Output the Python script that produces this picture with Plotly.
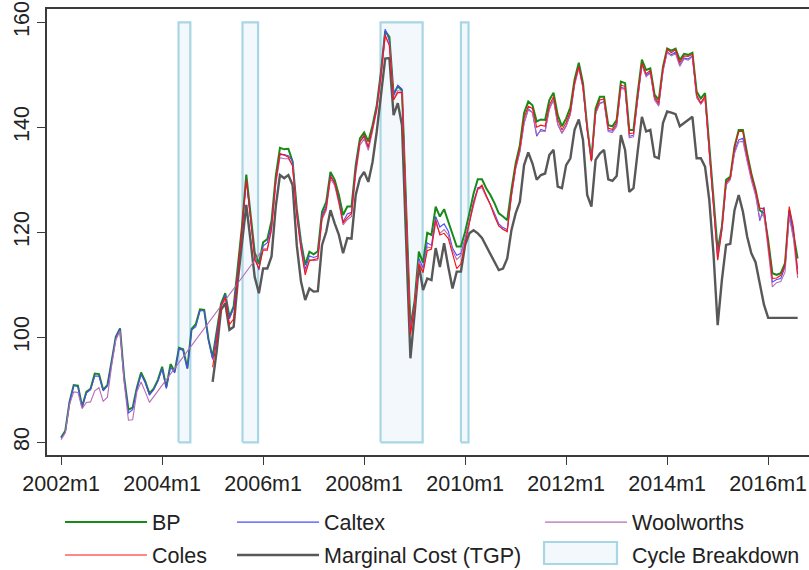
import plotly.graph_objects as go

# months since 2002m1 (2002m1 .. 2016m8)
n_months = 176
months = list(range(n_months))
tick_vals = [0, 24, 48, 72, 96, 120, 144, 168]
tick_text = ["2002m1", "2004m1", "2006m1", "2008m1", "2010m1", "2012m1", "2014m1", "2016m1"]

bp = [80.9, 82.2, 87.7, 90.9, 90.8, 86.8, 89.6, 90.2, 93.1, 93.0, 90.0, 90.9,
      95.4, 100.1, 101.7, 92.2, 86.2, 86.6, 90.4, 93.3, 91.6, 89.3, 90.2, 91.9,
      94.4, 90.5, 94.9, 93.5, 98.0, 97.7, 94.1, 101.6, 102.5, 105.3, 105.2, 99.7,
      96.2, 101.4, 106.4, 108.4, 103.9, 105.9, 113.0, 121.3, 131.0, 123.3, 116.2, 114.0,
      118.1, 118.7, 122.2, 130.7, 136.1, 135.8, 135.9, 133.5, 124.5, 118.2, 113.8, 116.3,
      115.8, 116.4, 123.9, 125.8, 131.5, 130.0, 127.1, 123.3, 124.9, 124.9, 132.8, 137.9,
      139.0, 137.3, 140.4, 144.2, 150.6, 158.3, 157.2, 146.3, 147.8, 147.0, 124.5, 102.0,
      107.0, 116.3, 114.2, 119.9, 119.5, 124.9, 123.0, 124.4, 122.0, 119.5, 117.3, 117.3,
      120.1, 123.6, 127.4, 130.1, 130.1, 128.4, 127.1, 125.5, 123.6, 123.0, 122.3, 128.1,
      133.1, 136.6, 142.7, 144.9, 144.2, 141.1, 141.5, 141.4, 145.2, 146.6, 142.3, 140.2,
      141.7, 143.8, 149.1, 152.3, 148.4, 140.1, 133.8, 143.6, 145.8, 145.8, 140.4, 140.2,
      141.4, 148.7, 148.4, 139.5, 139.5, 146.6, 152.9, 150.9, 151.2, 146.2, 145.2, 151.5,
      155.0, 154.6, 155.0, 152.8, 154.0, 153.8, 154.2, 146.8, 145.5, 146.5, 136.2, 126.1,
      116.6, 121.1, 130.0, 130.6, 136.3, 139.5, 139.5, 135.0, 131.2, 128.1, 124.2, 123.6,
      118.5, 112.2, 111.9, 112.2, 114.1, 124.2, 119.8, 115.0]

caltex = [80.8, 82.0, 87.6, 90.8, 90.6, 86.6, 89.4, 90.0, 92.6, 92.6, 89.8, 90.7,
          95.2, 100.0, 101.6, 92.0, 85.6, 86.2, 90.1, 92.9, 91.3, 89.0, 90.0, 91.6,
          94.0, 90.2, 94.3, 93.2, 97.8, 97.5, 94.0, 101.4, 102.0, 105.1, 105.0, 99.4,
          95.8, 101.0, 106.0, 108.0, 103.5, 105.5, 112.5, 120.8, 130.0, 122.8, 115.5, 112.8,
          117.4, 118.0, 121.5, 129.8, 134.8, 134.8, 134.6, 133.6, 124.0, 117.8, 112.9, 115.5,
          115.2, 115.5, 123.2, 125.0, 130.8, 129.2, 126.2, 122.0, 123.5, 123.8, 132.2, 137.3,
          138.2, 136.0, 139.8, 143.8, 150.4, 158.7, 156.5, 146.0, 148.0, 147.3, 124.0, 101.1,
          106.5, 115.0, 113.2, 118.0, 117.5, 123.0, 121.0, 121.6, 120.2, 117.0, 115.6, 116.0,
          118.8, 122.0, 125.8, 128.5, 128.7, 127.0, 125.6, 123.6, 121.6, 120.9, 120.5, 127.0,
          132.2, 135.4, 140.8, 143.5, 142.8, 138.3, 139.6, 139.3, 143.6, 145.3, 140.6, 138.9,
          140.3, 142.6, 148.2, 151.6, 147.6, 139.5, 133.7, 142.6, 144.6, 144.9, 139.4, 139.3,
          140.4, 147.6, 147.4, 138.3, 138.5, 145.6, 152.0, 149.9, 150.5, 145.5, 144.2, 150.8,
          154.4, 153.8, 154.3, 151.8, 153.2, 153.0, 153.6, 145.8, 144.6, 145.8, 136.0, 126.5,
          115.4, 121.0, 129.3, 130.2, 135.4, 137.6, 137.9, 134.0, 130.4, 127.6, 122.2, 124.8,
          117.4, 110.5, 111.0, 111.2, 113.4, 123.8, 120.0, 113.0]

coles = [None] * 36 + [
    94.3, 99.6, 106.0, 107.6, 102.4, 103.5, 112.0, 120.5, 130.0, 122.8, 114.8, 113.1,
    116.6, 116.6, 120.8, 129.6, 135.0, 134.7, 134.3, 132.6, 123.2, 116.8, 111.9, 114.6,
    114.8, 115.0, 122.8, 124.6, 130.6, 129.5, 125.8, 121.8, 122.8, 123.6, 131.6, 137.2,
    138.5, 136.3, 139.8, 143.5, 149.8, 157.6, 155.5, 145.2, 146.6, 146.6, 123.5, 100.5,
    106.0, 114.0, 112.3, 116.5, 116.8, 122.4, 119.5, 119.8, 118.8, 115.7, 113.1, 114.0,
    118.0, 121.8, 125.6, 128.2, 129.0, 127.0, 125.2, 123.0, 121.2, 120.6, 120.1, 127.2,
    132.6, 136.0, 141.8, 144.0, 143.6, 140.0, 140.4, 140.2, 144.2, 145.8, 141.4, 139.5,
    140.9, 143.0, 148.5, 151.6, 147.8, 139.5, 133.5, 143.0, 145.2, 145.4, 139.8, 139.6,
    140.9, 148.0, 147.8, 138.8, 138.9, 145.9, 152.2, 150.2, 150.8, 145.8, 144.6, 151.2,
    154.9, 154.2, 154.8, 152.3, 153.6, 153.5, 153.9, 146.2, 144.6, 146.0, 135.6, 125.0,
    114.7, 120.5, 129.5, 130.4, 136.2, 139.2, 139.2, 134.7, 130.9, 128.0, 124.6, 124.5,
    118.0, 111.2, 111.3, 111.8, 113.7, 124.9, 121.0, 112.0]

woolworths = [80.5, 81.8, 87.2, 89.6, 89.5, 86.4, 87.6, 87.7, 89.8, 90.4, 87.8, 88.6,
              94.5, 99.5, 101.2, 91.3, 84.2, 84.3, 89.6, 91.5, 89.6, 87.6] + [None] * 26 + [
    116.8, 116.9, 120.3, 129.0, 134.2, 134.0, 134.0, 132.8, 123.0, 116.9, 112.4, 114.8,
    114.6, 114.7, 122.4, 124.2, 130.2, 128.9, 125.5, 121.4, 122.4, 123.0, 131.0, 136.6,
    137.8, 135.6, 139.2, 143.2, 149.6, 157.4, 155.8, 145.4, 147.0, 146.8, 123.5, 100.8,
    106.0, 114.6, 112.6, 117.2, 117.0, 121.8, 119.8, 120.5, 119.5, 116.5, 114.8, 115.6,
    118.6, 121.8, 125.5, 128.2, 128.5, 126.7, 125.3, 123.2, 121.2, 120.5, 120.3, 126.8,
    132.0, 135.3, 140.8, 143.3, 142.8, 138.6, 139.3, 139.2, 143.4, 145.2, 140.5, 138.8,
    140.2, 142.4, 148.0, 151.2, 147.4, 139.6, 133.8, 142.6, 144.5, 144.8, 139.2, 139.0,
    140.2, 147.4, 147.2, 138.0, 138.2, 145.4, 151.8, 149.6, 150.3, 145.2, 144.0, 150.6,
    154.2, 153.6, 154.0, 151.6, 153.0, 152.8, 153.4, 145.6, 144.4, 145.5, 135.5, 125.5,
    114.8, 120.4, 129.0, 130.0, 135.0, 137.2, 137.3, 133.5, 129.9, 127.0, 122.6, 123.6,
    117.0, 109.6, 110.4, 110.6, 112.4, 123.0, 118.8, 111.3]

mc = [None] * 36 + [
    91.5, 97.6, 105.2, 106.5, 101.4, 102.0, 110.9, 118.5, 125.2, 118.5, 111.5, 108.4,
    113.1, 113.1, 115.4, 124.9, 130.9, 130.3, 130.9, 129.0, 117.5, 110.6, 107.1, 109.3,
    108.7, 108.8, 117.6, 120.1, 124.2, 121.7, 119.5, 116.0, 118.9, 118.8, 127.1, 130.3,
    131.5, 129.6, 133.4, 139.2, 146.8, 153.1, 153.2, 142.3, 144.6, 140.4, 118.0, 96.0,
    104.6, 113.8, 109.0, 111.2, 110.9, 117.0, 113.4, 117.9, 113.4, 109.3, 112.5, 112.5,
    117.6, 119.8, 120.4, 119.8, 118.9, 117.3, 116.0, 114.4, 112.8, 113.1, 115.0, 120.4,
    123.6, 125.8, 132.8, 135.2, 133.1, 130.0, 130.9, 131.2, 134.7, 135.7, 128.7, 128.4,
    132.8, 134.1, 139.5, 141.5, 137.6, 127.1, 124.9, 133.8, 135.0, 135.7, 130.1, 129.8,
    130.7, 138.5, 135.7, 127.7, 128.4, 135.4, 142.0, 139.2, 139.5, 134.4, 134.1, 140.8,
    143.0, 142.8, 142.5, 140.2, 140.8, 141.5, 142.0, 134.1, 134.1, 132.5, 126.2, 116.0,
    102.3, 110.9, 117.6, 117.8, 124.2, 127.1, 123.9, 119.2, 116.0, 114.3, 110.3, 106.2,
    103.7, 103.7, 103.7, 103.7, 103.7, 103.7, 103.7, 103.7]

# cycle breakdown periods (month index start/end) and their vertical span
cycle_start = [27.9, 43.1, 75.9, 95.0]
cycle_end = [30.7, 46.8, 85.9, 96.8]
cycle_low, cycle_high = 80, 160

FONT = "Liberation Sans, Arial, sans-serif"
FS = 21.5
FILL = "#f3f8fc"
EDGE = "#a9d6e4"

rect_x, rect_y = [], []
for s, e in zip(cycle_start, cycle_end):
    rect_x += [s, e, e, s, s, None]
    rect_y += [cycle_low, cycle_low, cycle_high, cycle_high, cycle_low, None]

fig = go.Figure()
fig.add_trace(go.Scatter(x=rect_x, y=rect_y, mode="lines", fill="toself",
                         fillcolor=FILL, line=dict(color=EDGE, width=2.2),
                         showlegend=False, hoverinfo="skip"))
# legend entry for cycle breakdown (symbol drawn as a box shape below)
fig.add_trace(go.Scatter(x=[None], y=[None], mode="lines", name="Cycle Breakdown",
                         line=dict(color="rgba(0,0,0,0)", width=1), legend="legend3",
                         legendrank=6, legendgroup="g6"))
fig.add_trace(go.Scatter(x=months, y=mc, mode="lines", name="Marginal Cost (TGP)",
                         line=dict(color="#585858", width=2.4), legend="legend2",
                         legendrank=5, legendgroup="g5"))
fig.add_trace(go.Scatter(x=months, y=bp, mode="lines", name="BP",
                         line=dict(color="#178a17", width=2), legend="legend",
                         legendrank=1, legendgroup="g1"))
fig.add_trace(go.Scatter(x=months, y=caltex, mode="lines", name="Caltex",
                         line=dict(color="#4a4aff", width=1.1), legend="legend2",
                         legendrank=2, legendgroup="g2"))
fig.add_trace(go.Scatter(x=months, y=woolworths, mode="lines", name="Woolworths",
                         line=dict(color="#b56cb5", width=1.1), connectgaps=True,
                         legend="legend3", legendrank=3, legendgroup="g3"))
fig.add_trace(go.Scatter(x=months, y=coles, mode="lines", name="Coles",
                         line=dict(color="#ff1010", width=1.1), legend="legend",
                         legendrank=4, legendgroup="g4"))

leg_common = dict(xref="container", yref="container", xanchor="left", yanchor="top",
                  orientation="v", bgcolor="rgba(0,0,0,0)", itemwidth=82,
                  font=dict(family=FONT, size=FS, color="#222222"),
                  traceorder="grouped", tracegroupgap=2)

# plot area in pixels: x 47..809, y 9..455
PL, PR, PT, PB = 47, 809, 9, 455
def px_to_paper_x(px):
    return (px - PL) / (PR - PL)
def px_to_paper_y(py):
    return (PB - py) / (PB - PT)

fig.update_layout(
    width=809, height=570,
    margin=dict(l=PL, r=809 - PR, t=PT, b=570 - PB, autoexpand=False),
    paper_bgcolor="white", plot_bgcolor="white",
    showlegend=True,
    legend=dict(x=0.0742, y=0.12, **leg_common),
    legend2=dict(x=0.2868, y=0.12, **leg_common),
    legend3=dict(x=0.6675, y=0.12, **leg_common),
    xaxis=dict(range=[-3.35, 177.7], tickmode="array", tickvals=tick_vals, ticktext=tick_text,
               showgrid=False, zeroline=False, showline=True, mirror=True,
               linecolor="#3a3a3a", linewidth=1.5, ticks="outside", ticklen=8,
               tickcolor="#3a3a3a", tickwidth=1.3,
               tickfont=dict(family=FONT, size=FS, color="#222222")),
    yaxis=dict(range=[77.58, 162.53], tickvals=[80, 100, 120, 140, 160],
               showgrid=False, zeroline=False, showline=True, mirror=False,
               linecolor="#3a3a3a", linewidth=1.5, ticks="outside", ticklen=8,
               tickcolor="#3a3a3a", tickwidth=1.3, tickangle=-90,
               tickfont=dict(family=FONT, size=FS, color="#222222")),
    shapes=[dict(type="rect", xref="paper", yref="paper",
                 x0=px_to_paper_x(544), x1=px_to_paper_x(617),
                 y0=px_to_paper_y(564), y1=px_to_paper_y(542),
                 fillcolor=FILL, line=dict(color=EDGE, width=2.2))],
)

fig.write_html("out.html")
